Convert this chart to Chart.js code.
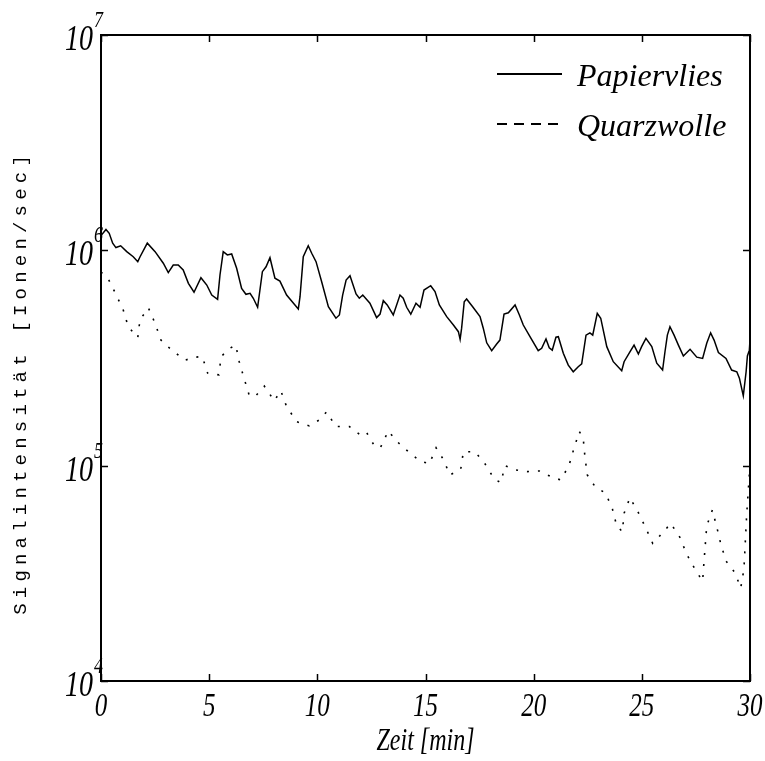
<!DOCTYPE html>
<html>
<head>
<meta charset="utf-8">
<script src="https://cdn.jsdelivr.net/npm/chart.js@4"></script>
<style>
  body { margin: 0; background: #fff; }
  #wrap { width: 765px; height: 761px; }
</style>
</head>
<body>
<div id="wrap"><canvas id="signalChart" width="765" height="761"></canvas></div>
<script>
// Messzeit [min] und Signal [Ionen/sec]
var papierTime = [0, 0.23, 0.38, 0.54, 0.69, 0.91, 1.19, 1.49, 1.70, 1.80,
    2.14, 2.50, 2.88, 3.11, 3.34, 3.57, 3.80, 4.04, 4.30, 4.62,
    4.89, 5.12, 5.39, 5.50, 5.65, 5.84, 6.04, 6.27, 6.50, 6.70,
    6.89, 7.04, 7.24, 7.46, 7.63, 7.81, 8.04, 8.27, 8.58, 9.12,
    9.20, 9.35, 9.58, 9.74, 9.94, 10.20, 10.51, 10.86, 11.02, 11.17,
    11.33, 11.51, 11.79, 11.94, 12.10, 12.43, 12.74, 12.90, 13.05, 13.23,
    13.51, 13.82, 13.97, 14.13, 14.32, 14.56, 14.75, 14.93, 15.24, 15.44,
    15.64, 15.98, 16.29, 16.52, 16.60, 16.67, 16.79, 16.90, 17.18, 17.52,
    17.67, 17.83, 18.06, 18.29, 18.44, 18.63, 18.83, 19.14, 19.34, 19.52,
    19.83, 20.21, 20.37, 20.57, 20.72, 20.86, 21.03, 21.14, 21.37, 21.60,
    21.83, 22.06, 22.22, 22.42, 22.60, 22.73, 22.94, 23.10, 23.38, 23.68,
    24.07, 24.18, 24.45, 24.64, 24.84, 24.99, 25.19, 25.46, 25.69, 25.96,
    26.07, 26.18, 26.30, 26.49, 26.69, 26.92, 27.23, 27.54, 27.81, 28.00,
    28.18, 28.34, 28.54, 28.89, 29.15, 29.39, 29.51, 29.69, 29.82, 29.88,
    29.97, 30.0];
var papierSignal = [1.17e6, 1.25e6, 1.20e6, 1.08e6, 1.03e6, 1.05e6, 9.86e5, 9.34e5, 8.86e5, 9.31e5,
    1.08e6, 9.86e5, 8.71e5, 7.88e5, 8.55e5, 8.55e5, 8.10e5, 7.03e5, 6.39e5, 7.46e5,
    6.90e5, 6.20e5, 5.92e5, 7.68e5, 9.86e5, 9.52e5, 9.62e5, 8.25e5, 6.66e5, 6.25e5,
    6.32e5, 5.99e5, 5.44e5, 7.96e5, 8.39e5, 9.24e5, 7.42e5, 7.20e5, 6.20e5, 5.34e5,
    6.09e5, 9.34e5, 1.05e6, 9.69e5, 8.86e5, 7.15e5, 5.47e5, 4.84e5, 5.01e5, 6.20e5,
    7.28e5, 7.62e5, 6.27e5, 5.99e5, 6.20e5, 5.68e5, 4.87e5, 5.06e5, 5.84e5, 5.58e5,
    5.01e5, 6.20e5, 5.99e5, 5.44e5, 5.05e5, 5.68e5, 5.44e5, 6.54e5, 6.85e5, 6.43e5,
    5.58e5, 4.92e5, 4.50e5, 4.19e5, 3.86e5, 4.35e5, 5.77e5, 5.94e5, 5.47e5, 4.92e5,
    4.35e5, 3.72e5, 3.42e5, 3.67e5, 3.83e5, 5.06e5, 5.13e5, 5.58e5, 5.01e5, 4.50e5,
    3.97e5, 3.42e5, 3.51e5, 3.88e5, 3.53e5, 3.44e5, 3.95e5, 3.97e5, 3.33e5, 2.93e5,
    2.73e5, 2.88e5, 2.97e5, 4.04e5, 4.14e5, 4.04e5, 5.10e5, 4.84e5, 3.57e5, 3.04e5,
    2.76e5, 3.04e5, 3.38e5, 3.63e5, 3.30e5, 3.57e5, 3.90e5, 3.57e5, 2.99e5, 2.78e5,
    3.38e5, 4.04e5, 4.42e5, 4.04e5, 3.63e5, 3.23e5, 3.47e5, 3.19e5, 3.15e5, 3.70e5,
    4.14e5, 3.83e5, 3.35e5, 3.15e5, 2.78e5, 2.73e5, 2.55e5, 2.11e5, 2.73e5, 3.23e5,
    3.44e5, 3.83e5];

var quarzTime = [0, 0.34, 0.69, 1.03, 1.26, 1.70, 1.80, 2.19, 2.50, 2.77,
    3.27, 3.88, 4.35, 4.68, 4.93, 5.45, 5.55, 5.96, 6.23, 6.39,
    6.61, 6.86, 7.15, 7.55, 8.01, 8.31, 8.58, 9.05, 9.63, 10.09,
    10.43, 10.85, 11.48, 11.94, 12.25, 12.67, 12.93, 13.28, 13.70, 14.21,
    14.75, 15.18, 15.49, 15.82, 16.13, 16.63, 16.75, 17.29, 17.75, 18.18,
    18.48, 18.68, 19.18, 19.72, 20.26, 20.80, 21.25, 21.63, 21.86, 22.11,
    22.29, 22.37, 22.48, 22.84, 23.33, 23.64, 23.84, 24.10, 24.18, 24.45,
    24.84, 25.19, 25.50, 26.02, 26.33, 26.76, 27.07, 27.46, 27.81, 27.87,
    28.00, 28.26, 28.46, 28.65, 28.89, 29.31, 29.57, 29.72, 29.85, 30.0];
var quarzSignal = [7.93e5, 7.36e5, 6.25e5, 5.28e5, 4.42e5, 3.93e5, 4.75e5, 5.41e5, 4.58e5, 3.83e5,
    3.44e5, 3.09e5, 3.19e5, 3.21e5, 2.69e5, 2.64e5, 3.21e5, 3.51e5, 3.63e5, 3.04e5,
    2.55e5, 2.11e5, 2.11e5, 2.34e5, 2.00e5, 2.23e5, 1.88e5, 1.60e5, 1.53e5, 1.63e5,
    1.78e5, 1.52e5, 1.52e5, 1.40e5, 1.44e5, 1.22e5, 1.22e5, 1.45e5, 1.29e5, 1.16e5,
    1.05e5, 1.02e5, 1.21e5, 1.07e5, 9.05e4, 9.65e4, 1.16e5, 1.16e5, 1.02e5, 8.67e4,
    8.34e4, 1.00e5, 9.55e4, 9.38e4, 9.45e4, 8.89e4, 8.58e4, 1.00e5, 1.20e5, 1.44e5,
    1.34e5, 1.10e5, 9.05e4, 7.99e4, 7.44e4, 6.29e4, 5.25e4, 4.94e4, 6.01e4, 7.10e4,
    6.05e4, 5.12e4, 4.36e4, 4.94e4, 5.40e4, 4.65e4, 3.89e4, 3.30e4, 2.91e4, 3.54e4,
    5.25e4, 6.22e4, 5.21e4, 4.33e4, 3.61e4, 3.18e4, 2.70e4, 3.31e4, 6.01e4, 1.01e5];

var seriesNames = ['Papiervlies', 'Quarzwolle'];
var xTicks = [0, 5, 10, 15, 20, 25, 30];
var yTicks = [1e4, 1e5, 1e6, 1e7];
var xTitle = 'Zeit [min]';
var yTitle = 'Signalintensität [Ionen/sec]';

function toPoints(xs, ys) {
    return xs.map(function (x, i) { return { x: x, y: ys[i] }; });
}

var serif = '"Liberation Serif", "Times New Roman", serif';

// draws text squeezed/stretched vertically like the old plot fonts
function stretchText(ctx, text, x, y, size, sy, align) {
    ctx.save();
    ctx.translate(x, y);
    ctx.scale(1, sy);
    ctx.font = 'italic ' + size + 'px ' + serif;
    ctx.textAlign = align;
    ctx.textBaseline = 'alphabetic';
    ctx.fillText(text, 0, 0);
    ctx.restore();
}

// frame, inward ticks, tick labels, axis titles and legend
var axesPlugin = {
    id: 'matlabAxes',
    afterDraw: function (chart) {
        var ctx = chart.ctx;
        var area = chart.chartArea;
        var xs = chart.scales.x, ys = chart.scales.y;
        ctx.save();
        ctx.fillStyle = '#000';
        ctx.strokeStyle = '#000';

        // box
        ctx.lineWidth = 2;
        ctx.strokeRect(area.left, area.top, area.right - area.left, area.bottom - area.top);

        // ticks
        ctx.lineWidth = 1.5;
        ctx.beginPath();
        xTicks.forEach(function (t) {
            var px = Math.round(xs.getPixelForValue(t)) + 0.5;
            ctx.moveTo(px, area.bottom); ctx.lineTo(px, area.bottom - 7);
            ctx.moveTo(px, area.top); ctx.lineTo(px, area.top + 7);
        });
        yTicks.forEach(function (v) {
            var py = Math.round(ys.getPixelForValue(v)) + 0.5;
            ctx.moveTo(area.left, py); ctx.lineTo(area.left + 7, py);
            ctx.moveTo(area.right, py); ctx.lineTo(area.right - 7, py);
        });
        ctx.stroke();

        // x tick labels
        xTicks.forEach(function (t) {
            stretchText(ctx, String(t), xs.getPixelForValue(t), area.bottom + 35, 25, 1.35, 'center');
        });
        // y tick labels as 10 with exponent
        yTicks.forEach(function (v) {
            var py = ys.getPixelForValue(v);
            var exp = Math.round(Math.log10(v));
            stretchText(ctx, '10', area.left - 8, py + 15, 28, 1.3, 'right');
            stretchText(ctx, String(exp), area.left - 7, py - 8, 18, 1.3, 'left');
        });

        // x title
        stretchText(ctx, xTitle, (area.left + area.right) / 2, area.bottom + 69, 24, 1.3, 'center');

        // y title, monospaced with wide spacing
        ctx.save();
        ctx.translate(21, 385);
        ctx.rotate(-Math.PI / 2);
        ctx.font = '19px "Liberation Mono", "DejaVu Sans Mono", monospace';
        ctx.textAlign = 'left';
        ctx.textBaseline = 'middle';
        var step = 16.6;
        var start = -(step * (yTitle.length - 1) + 11.4) / 2;
        for (var i = 0; i < yTitle.length; i++) {
            ctx.fillText(yTitle[i], start + i * step, 0);
        }
        ctx.restore();

        // legend
        var legendRows = [
            { y: 74, dash: [] },
            { y: 124, dash: [10, 7] }
        ];
        chart.data.datasets.forEach(function (ds, i) {
            var row = legendRows[i];
            ctx.save();
            ctx.lineWidth = 2;
            ctx.setLineDash(row.dash);
            ctx.beginPath();
            ctx.moveTo(497, row.y);
            ctx.lineTo(562, row.y);
            ctx.stroke();
            ctx.restore();
            ctx.font = 'italic 32px ' + serif;
            ctx.textAlign = 'left';
            ctx.textBaseline = 'alphabetic';
            ctx.fillText(ds.label, 577, row.y + 12);
        });
        ctx.restore();
    }
};

var ctx = document.getElementById('signalChart').getContext('2d');
var signalChart = new Chart(ctx, {
    type: 'line',
    data: {
        datasets: [{
            label: seriesNames[0],
            data: toPoints(papierTime, papierSignal),
            borderColor: '#000',
            borderWidth: 1.5,
            pointRadius: 0,
            tension: 0
        }, {
            label: seriesNames[1],
            data: toPoints(quarzTime, quarzSignal),
            borderColor: '#000',
            borderWidth: 1.6,
            borderDash: [2, 9],
            pointRadius: 0,
            tension: 0
        }]
    },
    options: {
        responsive: false,
        animation: false,
        layout: {
            padding: { left: 101, right: 15, top: 35, bottom: 80 }
        },
        scales: {
            x: { type: 'linear', min: 0, max: 30, display: false },
            y: { type: 'logarithmic', min: 1e4, max: 1e7, display: false }
        },
        plugins: {
            legend: { display: false },
            tooltip: { enabled: false }
        }
    },
    plugins: [axesPlugin]
});
</script>
</body>
</html>
